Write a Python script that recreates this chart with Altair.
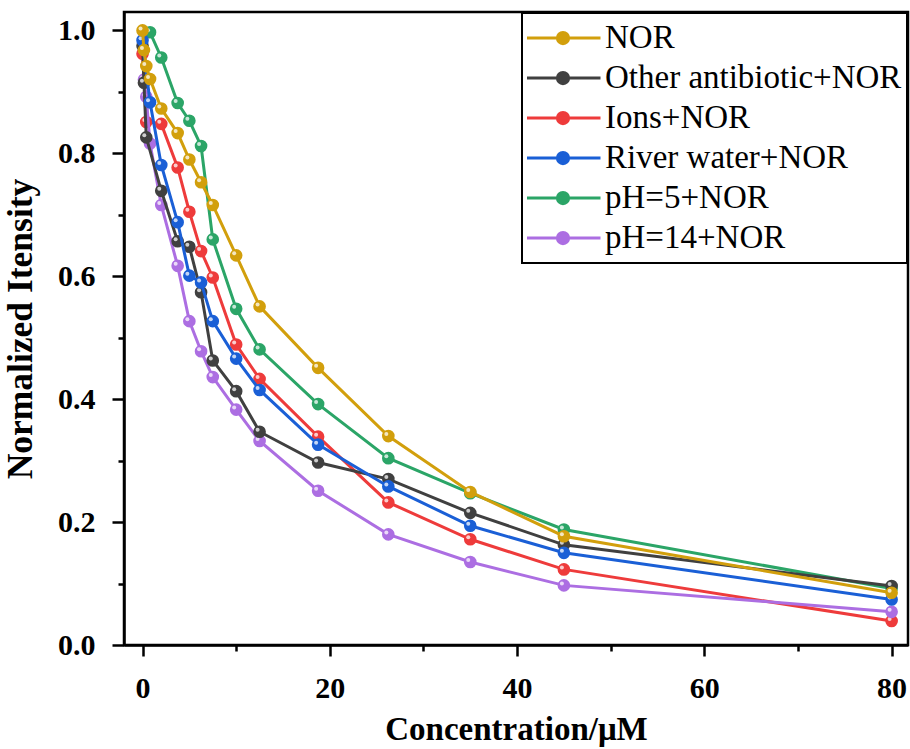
import altair as alt
import pandas as pd

# ---------------- data ----------------
concentration = [0, 0.15, 0.4, 0.8, 2, 3.75, 5, 6.25, 7.5, 10, 12.5, 18.75, 26.25, 35, 45, 80]

series_names = ["NOR", "Other antibiotic+NOR", "Ions+NOR", "River water+NOR", "pH=5+NOR", "pH=14+NOR"]
series_colors = ["#D29F0C", "#404040", "#EE3B3B", "#1A5FD6", "#2BA567", "#AC6EE2"]

# None = no point at that concentration for that series
nor = [1.000, 0.968, 0.942, 0.921, 0.873, 0.833, 0.790, 0.753, 0.716, 0.634, 0.551, 0.451, 0.340, 0.249, 0.177, 0.085]
other_antibiotic = [0.975, 0.915, 0.826, None, 0.739, 0.657, 0.648, 0.574, 0.463, 0.413, 0.347, 0.297, 0.270, 0.215, 0.163, 0.096]
ions = [0.962, None, 0.851, None, 0.848, 0.777, 0.705, 0.641, 0.598, 0.489, 0.433, 0.339, 0.232, 0.172, 0.123, 0.039]
river_water = [0.984, None, None, 0.883, 0.781, 0.688, 0.601, 0.590, 0.527, 0.466, 0.415, 0.326, 0.258, 0.194, 0.150, 0.074]
ph5 = [None, None, None, 0.997, 0.956, 0.882, 0.853, 0.812, 0.660, 0.547, 0.481, 0.392, 0.304, 0.247, 0.188, 0.092]
ph14 = [None, 0.920, 0.892, 0.816, 0.716, 0.617, 0.527, 0.478, 0.436, 0.383, 0.332, 0.251, 0.180, 0.135, 0.097, 0.054]

series_values = [nor, other_antibiotic, ions, river_water, ph5, ph14]

# drawing order, bottom -> top
draw_order = ["pH=5+NOR", "Ions+NOR", "pH=14+NOR", "Other antibiotic+NOR", "River water+NOR", "NOR"]

x_ticks = [0, 10, 20, 30, 40, 50, 60, 70, 80]
y_ticks = [0.0, 0.1, 0.2, 0.3, 0.4, 0.5, 0.6, 0.7, 0.8, 0.9, 1.0]

rows = []
for name, vals in zip(series_names, series_values):
    for c, v in zip(concentration, vals):
        if v is not None:
            rows.append({"series": name, "conc": c, "value": v})
df = pd.DataFrame(rows)

FONT = "Liberation Serif"

legend_path = ("M-1,0H1"
               "M0.15,0A0.15,0.15,0,1,1,-0.15,0A0.15,0.15,0,1,1,0.15,0Z")

color = alt.Color(
    "series:N",
    scale=alt.Scale(domain=series_names, range=series_colors),
    legend=alt.Legend(
        title=None,
        orient="none",
        legendX=398,
        legendY=1,
        symbolType=legend_path,
        symbolSize=5625,
        symbolStrokeWidth=3,
        symbolOpacity=1,
        symbolOffset=-3,
        symbolFillColor={"expr": "scale('color', datum.value)"},
        labelFont=FONT,
        labelFontSize=33,
        labelFontWeight="normal",
        labelColor="black",
        labelLimit=0,
        labelOffset=3,
        clipHeight=40,
        rowPadding=0,
        padding=5,
        strokeColor="black",
        fillColor="white",
        cornerRadius=0,
    ),
)

MAJOR_Y = "abs(datum.value * 5 - round(datum.value * 5)) < 0.001"

x_enc = alt.X(
    "conc:Q",
    scale=alt.Scale(domain=[-1.98, 81.75], nice=False, zero=False),
    axis=alt.Axis(
        values=x_ticks,
        title="Concentration/μM",
        labelExpr="datum.value % 20 == 0 ? format(datum.value, 'd') : ''",
        tickSize={"condition": {"test": "datum.value % 20 == 0", "value": 11}, "value": 6},
        labelOverlap=False,
        labelPadding=17,
        titlePadding=10,
        titleFontSize=33,
    ),
)
y_enc = alt.Y(
    "value:Q",
    scale=alt.Scale(domain=[0, 1.03], nice=False, zero=False),
    axis=alt.Axis(
        values=y_ticks,
        title="Normalized Itensity",
        labelExpr=MAJOR_Y + " ? format(datum.value, '.1f') : ''",
        tickSize={"condition": {"test": MAJOR_Y, "value": 12}, "value": 6},
        labelOverlap=False,
        labelPadding=17,
        titlePadding=19,
        titleFontSize=35.5,
    ),
)

base = alt.Chart(df).encode(x=x_enc, y=y_enc, color=color)

layers = []
for s in draw_order:
    b = base.transform_filter(alt.datum.series == s)
    layers.append(b.mark_line(strokeWidth=3))
    layers.append(b.mark_circle(size=160, opacity=1))
    layers.append(
        b.mark_circle(size=16, opacity=0.75, xOffset=-2, yOffset=-2).encode(color=alt.value("white"))
    )

chart = (
    alt.layer(*layers)
    .properties(
        width=784,
        height=633,
        autosize=alt.AutoSizeParams(type="none"),
        padding={"left": 124, "top": 12, "right": 2, "bottom": 104},
        background="white",
    )
    .configure_view(stroke="black", strokeWidth=2.5)
    .configure_legend(strokeWidth=2)
    .configure_axis(
        grid=False,
        domainColor="black",
        domainWidth=2.5,
        tickColor="black",
        tickWidth=2.5,
        labelFont=FONT,
        labelFontSize=30,
        labelFontWeight="bold",
        labelColor="black",
        titleFont=FONT,
        titleFontWeight="bold",
        titleColor="black",
    )
)

chart.save("out.html", embed_options={"renderer": "svg", "actions": False})
